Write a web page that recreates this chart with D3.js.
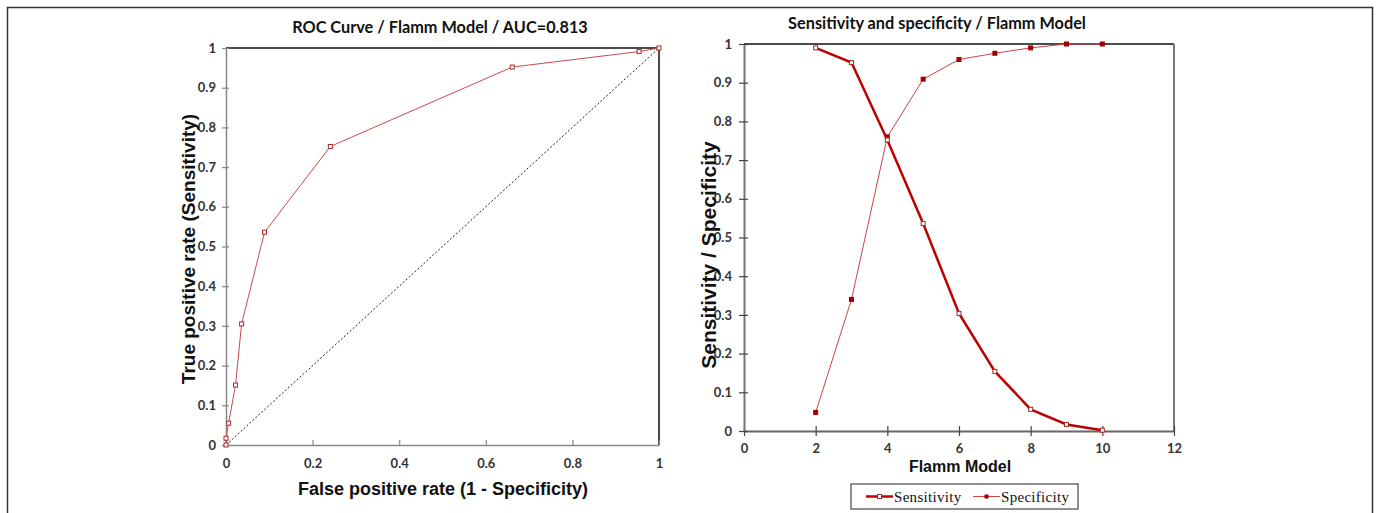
<!DOCTYPE html>
<html>
<head>
<meta charset="utf-8">
<script src="https://cdn.jsdelivr.net/npm/d3@7"></script>
<style>
  body { margin: 0; background: #fff; }
  svg { display: block; }
  .tick text { font-family: Lato, "Open Sans", sans-serif; font-weight: bold; fill: #333; }
  .title { font-family: Lato, "Open Sans", sans-serif; font-weight: bold; font-size: 16.3px; fill: #111; }
  .axis-title { font-family: "Liberation Sans", Arial, sans-serif; font-weight: bold; font-size: 18px; fill: #111; }
  .legend text { font-family: "Liberation Serif", "DejaVu Serif", serif; font-size: 15px; fill: #111; }
</style>
</head>
<body>
<div id="chart"></div>
<script>
// ROC curve points (false positive rate, true positive rate)
const rocFpr = [0, 0, 0.006, 0.022, 0.036, 0.089, 0.241, 0.661, 0.954, 1];
const rocTpr = [0, 0.017, 0.055, 0.151, 0.305, 0.536, 0.752, 0.952, 0.991, 1];

// sensitivity / specificity by Flamm model cut-off
const cutoffs = [2, 3, 4, 5, 6, 7, 8, 9, 10];
const sensitivity = [0.990, 0.952, 0.752, 0.536, 0.304, 0.154, 0.056, 0.017, 0.002];
const specificity = [0.048, 0.340, 0.760, 0.909, 0.960, 0.976, 0.990, 1.0, 1.0];

const rocTicksX = [0, 0.2, 0.4, 0.6, 0.8, 1];
const rocTicksY = [0, 0.1, 0.2, 0.3, 0.4, 0.5, 0.6, 0.7, 0.8, 0.9, 1];
const ssTicksX = [0, 2, 4, 6, 8, 10, 12];

const W = 1377, H = 513;
const svg = d3.select('#chart').append('svg').attr('width', W).attr('height', H);

// outer frame
svg.append('rect')
  .attr('x', 7.5).attr('y', 7.5).attr('width', 1365).attr('height', 520)
  .attr('fill', 'none').attr('stroke', '#333').attr('stroke-width', 1.5);

const fmt = d => d === 0 || d === 1 ? String(d) : String(+d.toFixed(1));

function styleAxis(sel) {
  sel.select('.domain').attr('stroke', '#888').attr('stroke-width', 1.5);
  sel.selectAll('.tick line').attr('stroke', '#888').attr('stroke-width', 1.2);
  sel.selectAll('.tick text').attr('font-size', 13);
}

// ---------- left: ROC ----------
{
  const x = d3.scaleLinear().domain([0, 1]).range([226, 659]);
  const y = d3.scaleLinear().domain([0, 1]).range([445, 48]);

  // top and right frame of plot area
  svg.append('path')
    .attr('d', `M${x(0)},${y(1)}H${x(1)}V${y(0)}`)
    .attr('fill', 'none').attr('stroke', '#111').attr('stroke-width', 1.5);

  const xa = svg.append('g').attr('transform', `translate(0,${y(0)})`)
    .call(d3.axisBottom(x).tickValues(rocTicksX).tickFormat(fmt).tickSizeInner(-5).tickSizeOuter(0).tickPadding(14));
  styleAxis(xa);
  const ya = svg.append('g').attr('transform', `translate(${x(0)},0)`)
    .call(d3.axisLeft(y).tickValues(rocTicksY).tickFormat(fmt).tickSize(4).tickSizeOuter(0).tickPadding(6));
  styleAxis(ya);
  ya.selectAll('.tick line').attr('x2', 3).attr('x1', -4);
  xa.selectAll('.tick line').attr('y1', 0);

  // diagonal reference
  svg.append('line')
    .attr('x1', x(0)).attr('y1', y(0)).attr('x2', x(1)).attr('y2', y(1))
    .attr('stroke', '#222').attr('stroke-width', 1).attr('stroke-dasharray', '2,2');

  const pts = rocFpr.map((f, i) => [f, rocTpr[i]]);
  svg.append('path')
    .datum(pts)
    .attr('d', d3.line().x(d => x(d[0])).y(d => y(d[1])))
    .attr('fill', 'none').attr('stroke', '#cc4a4a').attr('stroke-width', 1);
  svg.selectAll('.roc-pt').data(pts).join('rect')
    .attr('class', 'roc-pt')
    .attr('x', d => x(d[0]) - 2).attr('y', d => y(d[1]) - 2)
    .attr('width', 4).attr('height', 4)
    .attr('fill', '#fff').attr('stroke', '#a52a2a').attr('stroke-width', 1);

  svg.append('text').attr('class', 'title')
    .attr('x', 440).attr('y', 33).attr('text-anchor', 'middle')
    .text('ROC Curve / Flamm Model / AUC=0.813');
  svg.append('text').attr('class', 'axis-title')
    .attr('x', 443).attr('y', 495).attr('text-anchor', 'middle')
    .text('False positive rate (1 - Specificity)');
  svg.append('text').attr('class', 'axis-title')
    .style('font-size', '19px')
    .attr('transform', 'translate(195,249) rotate(-90)').attr('text-anchor', 'middle')
    .text('True positive rate (Sensitivity)');
}

// ---------- right: sensitivity & specificity ----------
{
  const x = d3.scaleLinear().domain([0, 12]).range([744, 1174]);
  const y = d3.scaleLinear().domain([0, 1]).range([431, 44]);

  svg.append('line')
    .attr('x1', x(0)).attr('x2', x(12)).attr('y1', y(1)).attr('y2', y(1))
    .attr('stroke', '#111').attr('stroke-width', 1.5);
  svg.append('line')
    .attr('x1', x(12)).attr('x2', x(12)).attr('y1', y(1)).attr('y2', y(0))
    .attr('stroke', '#777').attr('stroke-width', 2);

  const xa = svg.append('g').attr('transform', `translate(0,${y(0)})`)
    .call(d3.axisBottom(x).tickValues(ssTicksX).tickFormat(d3.format('d')).tickSizeOuter(0).tickPadding(7));
  styleAxis(xa);
  xa.selectAll('.tick line').attr('y1', -5).attr('y2', 5).attr('stroke', '#444');
  xa.select('.domain').attr('stroke', '#666').attr('stroke-width', 2);
  const ya = svg.append('g').attr('transform', `translate(${x(0)},0)`)
    .call(d3.axisLeft(y).tickValues(rocTicksY).tickFormat(fmt).tickSizeOuter(0).tickPadding(6));
  styleAxis(ya);
  ya.selectAll('.tick line').attr('x1', -5).attr('x2', 4).attr('stroke', '#444');
  ya.select('.domain').attr('stroke', '#777').attr('stroke-width', 2);

  const line = d3.line().x(d => x(d[0])).y(d => y(d[1]));
  const spec = cutoffs.map((c, i) => [c, specificity[i]]);
  const sens = cutoffs.map((c, i) => [c, sensitivity[i]]);

  svg.append('path').datum(spec).attr('d', line)
    .attr('fill', 'none').attr('stroke', '#cc4444').attr('stroke-width', 1);
  svg.append('path').datum(sens).attr('d', line)
    .attr('fill', 'none').attr('stroke', '#c00000').attr('stroke-width', 2.5);

  svg.selectAll('.spec-pt').data(spec).join('rect')
    .attr('class', 'spec-pt')
    .attr('x', d => x(d[0]) - 2.5).attr('y', d => y(d[1]) - 2.5)
    .attr('width', 5).attr('height', 5).attr('fill', '#a00000');
  svg.selectAll('.sens-pt').data(sens).join('rect')
    .attr('class', 'sens-pt')
    .attr('x', d => x(d[0]) - 2).attr('y', d => y(d[1]) - 2)
    .attr('width', 4).attr('height', 4)
    .attr('fill', '#fff').attr('stroke', '#a52a2a').attr('stroke-width', 1);

  svg.append('text').attr('class', 'title')
    .attr('x', 937).attr('y', 29).attr('text-anchor', 'middle')
    .text('Sensitivity and specificity / Flamm Model');
  svg.append('text').attr('class', 'axis-title')
    .style('font-size', '16px')
    .attr('x', 960).attr('y', 472).attr('text-anchor', 'middle')
    .text('Flamm Model');
  svg.append('text').attr('class', 'axis-title')
    .style('font-size', '21px')
    .attr('transform', 'translate(716,255) rotate(-90)').attr('text-anchor', 'middle')
    .text('Sensitivity / Specificity');

  // legend
  const lg = svg.append('g').attr('class', 'legend');
  lg.append('rect').attr('x', 851).attr('y', 484).attr('width', 227).attr('height', 25)
    .attr('fill', '#fff').attr('stroke', '#222').attr('stroke-width', 1);
  const items = [
    { name: 'Sensitivity', x: 866, width: 2.5, filled: false },
    { name: 'Specificity', x: 973, width: 1, filled: true }
  ];
  items.forEach(it => {
    lg.append('line').attr('x1', it.x).attr('x2', it.x + 27).attr('y1', 496.5).attr('y2', 496.5)
      .attr('stroke', it.filled ? '#cc4444' : '#c00000').attr('stroke-width', it.width);
    lg.append('rect').attr('x', it.x + 11.5).attr('y', 494.5).attr('width', 4).attr('height', 4)
      .attr('fill', it.filled ? '#a00000' : '#fff')
      .attr('stroke', it.filled ? 'none' : '#a52a2a');
    lg.append('text').attr('x', it.x + 28).attr('y', 502).style('letter-spacing', '0.3px').text(it.name);
  });
}
</script>
</body>
</html>
